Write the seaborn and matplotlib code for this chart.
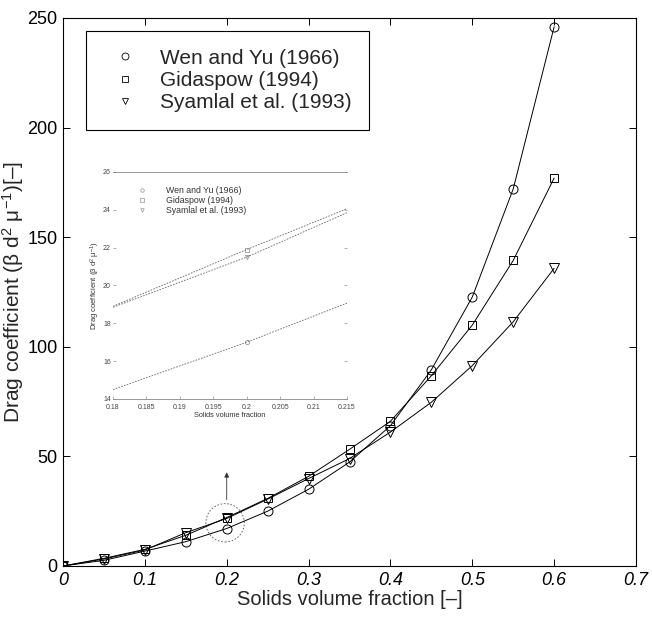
import matplotlib
matplotlib.use("Agg")
import matplotlib.pyplot as plt
from matplotlib.lines import Line2D
from matplotlib.patches import Ellipse
import seaborn as sns
import pandas as pd

# ---------------- data ----------------
solids_fraction = [0.0, 0.05, 0.10, 0.15, 0.20, 0.25, 0.30, 0.35, 0.40, 0.45, 0.50, 0.55, 0.60]
wen_yu = [0.0, 2.6, 6.8, 11.1, 17.1, 25.0, 35.0, 47.4, 64.0, 89.5, 122.7, 172.0, 246.0]
gidaspow = [0.0, 3.5, 7.6, 14.0, 22.1, 30.8, 40.9, 53.2, 66.0, 86.8, 109.9, 139.4, 177.0]
syamlal = [0.0, 3.2, 7.3, 15.2, 21.7, 30.5, 39.9, 49.0, 61.1, 74.7, 91.4, 111.4, 135.8]

inset_fraction = [0.18, 0.20, 0.215]
inset_wen_yu = [14.5, 17.0, 19.07]
inset_gidaspow = [18.9, 21.9, 24.06]
inset_syamlal = [18.85, 21.5, 23.85]

series_names = ["Wen and Yu (1966)", "Gidaspow (1994)", "Syamlal et al. (1993)"]
x_ticks = [0, 0.1, 0.2, 0.3, 0.4, 0.5, 0.6, 0.7]
x_tick_labels = ["0", "0.1", "0.2", "0.3", "0.4", "0.5", "0.6", "0.7"]
y_ticks = [0, 50, 100, 150, 200, 250]
inset_x_ticks = [0.18, 0.185, 0.19, 0.195, 0.2, 0.205, 0.21, 0.215]
inset_x_labels = ["0.18", "0.185", "0.19", "0.195", "0.2", "0.205", "0.21", "0.215"]
inset_y_ticks = [14, 16, 18, 20, 22, 24, 26]

# ---------------- style ----------------
sns.set_theme(style="ticks")
plt.rcParams["font.family"] = ["Liberation Sans", "DejaVu Sans"]
plt.rcParams["mathtext.fontset"] = "custom"
plt.rcParams["mathtext.rm"] = "Liberation Sans"
plt.rcParams["mathtext.it"] = "Liberation Sans:italic"
plt.rcParams["axes.linewidth"] = 0.8

markers = ["o", "s", "v"]
msizes = [6.5, 5.5, 6.5]

fig = plt.figure(figsize=(6.52, 6.22), dpi=100)
ax = fig.add_axes([63 / 652, 56 / 622, 573 / 652, 548 / 622])

main_df = pd.DataFrame({"x": solids_fraction * 3,
                        "y": wen_yu + gidaspow + syamlal,
                        "model": sum([[n] * len(solids_fraction) for n in series_names], [])})

for name, mk, ms in zip(series_names, markers, msizes):
    sub = main_df[main_df["model"] == name]
    sns.lineplot(data=sub, x="x", y="y", ax=ax, color="black", lw=0.7,
                 marker=mk, markersize=ms, markerfacecolor="none",
                 markeredgecolor="black", markeredgewidth=0.7,
                 legend=False, sort=False)

ax.set_xlim(0, 0.7)
ax.set_ylim(0, 250)
ax.set_xticks(x_ticks)
ax.set_xticklabels(x_tick_labels, fontsize=13, style="italic")
ax.set_yticks(y_ticks)
ax.set_yticklabels([str(v) for v in y_ticks], fontsize=13)
ax.tick_params(direction="in", top=True, right=True, length=5, width=0.7, pad=4,
               colors="black")
for s in ax.spines.values():
    s.set_color("black")
    s.set_linewidth(0.8)
ax.set_xlabel("Solids volume fraction [–]", fontsize=14.5, labelpad=1)
ax.set_ylabel("Drag coefficient (β d$^2$ μ$^{-1}$)[–]", fontsize=15)
ax.yaxis.set_label_coords((26 - 63) / 573, 0.5)

# dashed circle and arrow marking the zoomed region
ax.add_patch(Ellipse((0.198, 19.7), width=0.047, height=17.5, fill=False,
                     ls=(0, (2, 2)), lw=0.6, ec="#555555"))
ax.annotate("", xy=(0.2, 44), xytext=(0.2, 29),
            arrowprops=dict(arrowstyle="-|>", lw=0.6, color="#333333",
                            mutation_scale=7))

handles = [Line2D([], [], ls="none", marker=m, markersize=5, markerfacecolor="none",
                  markeredgecolor="black", markeredgewidth=0.6) for m in markers]
leg = ax.legend(handles, series_names, loc="upper left",
                bbox_to_anchor=(86 / 652, (622 - 31) / 622),
                bbox_transform=fig.transFigure, fontsize=15, frameon=True,
                fancybox=False, edgecolor="black", framealpha=1,
                borderaxespad=0, borderpad=0.85, labelspacing=0.15,
                handlelength=2.0, handletextpad=0.7)
leg.get_frame().set_linewidth(0.8)

# ---------------- inset ----------------
ins = fig.add_axes([113 / 652, (622 - 399) / 622, 234 / 652, 227 / 622])
ins.set_facecolor("none")
inset_df = pd.DataFrame({"x": inset_fraction * 3,
                         "y": inset_wen_yu + inset_gidaspow + inset_syamlal,
                         "model": sum([[n] * len(inset_fraction) for n in series_names], [])})
for name, mk in zip(series_names, markers):
    sub = inset_df[inset_df["model"] == name]
    sns.lineplot(data=sub, x="x", y="y", ax=ins, color="#666666", lw=0.6,
                 ls=(0, (2, 1.5)), marker=mk, markersize=3, markerfacecolor="none",
                 markeredgecolor="#666666", markeredgewidth=0.4, markevery=[1],
                 legend=False, sort=False)
ins.set_xlim(0.18, 0.215)
ins.set_ylim(14, 26)
ins.set_xticks(inset_x_ticks)
ins.set_xticklabels(inset_x_labels, fontsize=5, color="#444444")
ins.set_yticks(inset_y_ticks)
ins.set_yticklabels([str(v) for v in inset_y_ticks], fontsize=5, color="#444444")
ins.tick_params(direction="in", length=2, width=0.4, right=True, pad=1.5,
                color="#777777")
ins.tick_params(axis="x", pad=3.5)
ins.spines["left"].set_visible(False)
ins.spines["right"].set_visible(False)
for side in ["top", "bottom"]:
    ins.spines[side].set_color("#888888")
    ins.spines[side].set_linewidth(0.6)
ins.set_xlabel("Solids volume fraction", fontsize=5.3, labelpad=1, color="#333333")
ins.set_ylabel("Drag coefficient (β d$^2$ μ$^{-1}$)", fontsize=5.5, labelpad=1,
               color="#333333")
ihandles = [Line2D([], [], ls="none", marker=m, markersize=2.5, markerfacecolor="none",
                   markeredgecolor="#777777", markeredgewidth=0.4) for m in markers]
ileg = ins.legend(ihandles, series_names, loc="upper left",
                  bbox_to_anchor=(127 / 652, (622 - 182) / 622),
                  bbox_transform=fig.transFigure, fontsize=6.3, frameon=True,
                  fancybox=False, edgecolor="#888888", framealpha=0,
                  borderaxespad=0, borderpad=0.5, labelspacing=0.1,
                  handlelength=2.5, handletextpad=1.5)
ileg.get_frame().set_linewidth(0.5)
for t in ileg.get_texts():
    t.set_color("#333333")

fig.savefig("out.png", dpi=100)
